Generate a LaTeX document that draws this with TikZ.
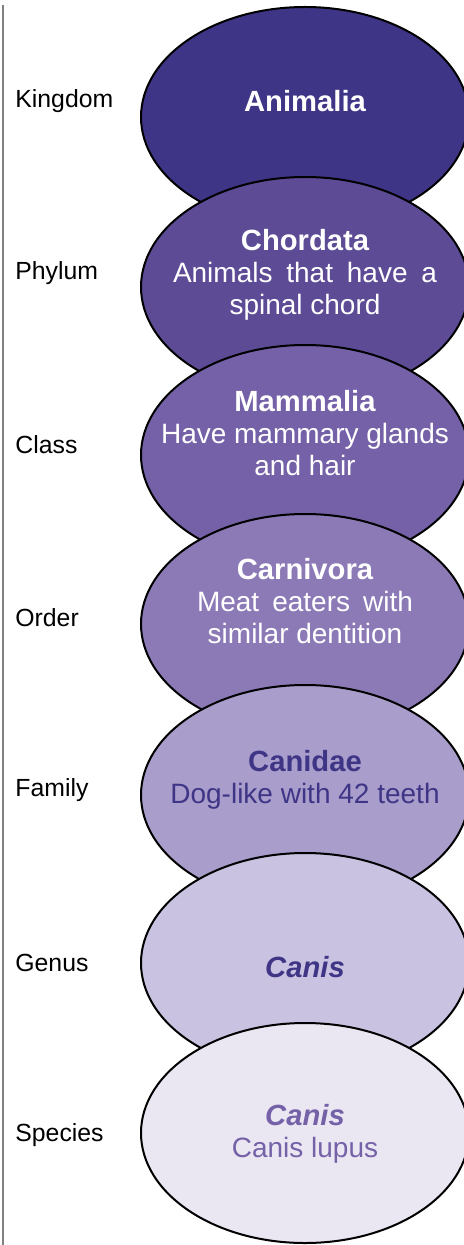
\documentclass[tikz,border=0pt]{standalone}
\usepackage{fontspec}
\setmainfont{Liberation Sans}
\usetikzlibrary{shapes.geometric}
\definecolor{rankA}{HTML}{3F3586}
\definecolor{rankB}{HTML}{5D4B96}
\definecolor{rankC}{HTML}{7561A7}
\definecolor{rankD}{HTML}{8C7AB7}
\definecolor{rankE}{HTML}{A99DCB}
\definecolor{rankF}{HTML}{C9C2E1}
\definecolor{rankG}{HTML}{EAE7F3}
\newcommand{\taxon}[1]{{\fontsize{14.6}{16}\selectfont\bfseries #1}}
\begin{document}
\begin{tikzpicture}[x=0.5pt,y=-0.5pt,
	rank/.style={ellipse,draw=black,line width=1pt,minimum width=164pt,minimum height=110pt,inner sep=0pt},
	lbl/.style={anchor=west,inner sep=0pt,font=\fontsize{12.4}{14}\selectfont},
	txt/.style={align=center,inner sep=0pt,font=\fontsize{14}{16}\selectfont}]
		\clip (0,0) rectangle (464,1245);
		\draw[gray,line width=1pt] (3,5) -- (3,1245);
		% ranks on the left
		\node[lbl] (kingdom) at (15,101) {Kingdom};
		\node[lbl] (phylum) at (15,273) {Phylum};
		\node[lbl] (class) at (15,445) {Class};
		\node[lbl] (order) at (15,618) {Order};
		\node[lbl] (family) at (15,790) {Family};
		\node[lbl] (genus) at (15,963) {Genus};
		\node[lbl] (species) at (15,1135) {Species};
		% stacked ellipses
		\node[rank,fill=rankA] (animalia) at (305,117) {};
		\node[txt,text=white] (animaliatxt) at (305,101) {\taxon{Animalia}};
		\node[rank,fill=rankB] (chordata) at (305,287) {};
		\node[txt,text=white] (chordatatxt) at (305,275) {\taxon{Chordata}\\\makebox[132pt][s]{Animals that have a}\\spinal chord};
		\node[rank,fill=rankC] (mammalia) at (305,455) {};
		\node[txt,text=white] (mammaliatxt) at (305,433) {\taxon{Mammalia}\\Have mammary glands\\and hair};
		\node[rank,fill=rankD] (carnivora) at (305,624) {};
		\node[txt,text=white] (carnivoratxt) at (305,601) {\taxon{Carnivora}\\\makebox[108pt][s]{Meat eaters with}\\similar dentition};
		\node[rank,fill=rankE] (canidae) at (305,795) {};
		\node[txt,text=rankA] (canidaetxt) at (305,780) {\taxon{Canidae}\\Dog-like with 42 teeth};
		\node[rank,fill=rankF] (canis) at (305,963) {};
		\node[txt,text=rankA] (canistxt) at (305,967) {\taxon{\itshape Canis}};
		\node[rank,fill=rankG] (lupus) at (305,1133) {};
		\node[txt,text=rankC] (lupustxt) at (305,1134) {\taxon{\itshape Canis}\\Canis lupus};
		\end{tikzpicture}
\end{document}
